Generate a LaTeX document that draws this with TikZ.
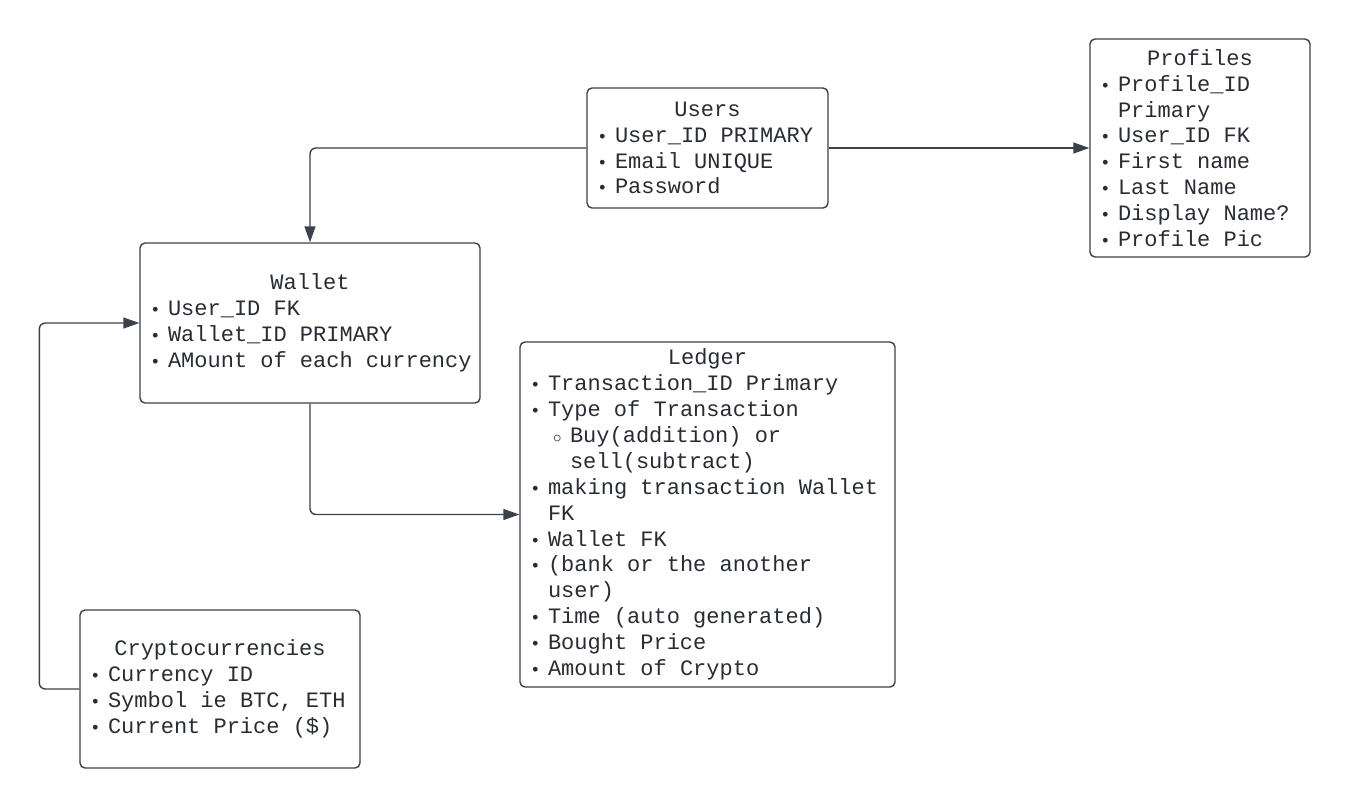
\documentclass[tikz,border=0pt]{standalone}
\usepackage{fontspec}
\setmonofont{Liberation Mono}
\usetikzlibrary{arrows.meta}

\definecolor{linec}{HTML}{3A414A}
\definecolor{textc}{HTML}{282C33}

\DeclareRobustCommand\fixspace{\spaceskip=0.6em\relax\xspaceskip=0.6em\relax}
\newcommand\bul{\makebox[11pt][l]{\kern2pt\scalebox{0.8}{•}}}
\newcommand\cont{\hspace*{11pt}}
\newcommand\subbul{\hspace*{13.5pt}\makebox[8.5pt][l]{$\scriptstyle\circ$}}
\newcommand\subcont{\hspace*{22pt}}
\newcommand\ttl[1]{\hfill #1\hfill\null}

\tikzset{
  table/.style={draw=linec, rounded corners=2.5pt, line width=0.7pt,
    text=textc, align=flush left, inner xsep=3pt, inner ysep=0pt,
    font=\fontsize{11}{12.95}\selectfont\ttfamily, execute at begin node=\fixspace},
  link/.style={draw=linec, line width=0.7pt, rounded corners=3pt,
    -{Triangle[length=8pt,width=5.5pt]}}
}

\begin{document}
\begin{tikzpicture}[x=0.5pt, y=-0.5pt, line join=round]
            \useasboundingbox (0,0) rectangle (1351,810);
            % tables
            \node[table, text width=114.5pt, minimum height=60pt] (users) at (707.5,148)
              {\ttl{Users}\\ \bul User\_ID PRIMARY\\ \bul Email UNIQUE\\ \bul Password};
            \node[table, text width=104pt, minimum height=109pt] (profiles) at (1200,148)
              {\ttl{Profiles}\\ \bul Profile\_ID\\ \cont Primary\\ \bul User\_ID FK\\
               \bul First name\\ \bul Last Name\\ \bul Display Name?\\ \bul Profile Pic};
            \node[table, text width=164pt, minimum height=80pt] (wallet) at (310,323)
              {\ttl{Wallet}\\ \bul User\_ID FK\\ \bul Wallet\_ID PRIMARY\\ \bul AMount of each currency};
            \node[table, text width=181.5pt, minimum height=172.5pt] (ledger) at (707.5,514.5)
              {\ttl{Ledger}\\ \bul Transaction\_ID Primary\\ \bul Type of Transaction\\
               \subbul Buy(addition) or\\ \subcont sell(subtract)\\
               \bul making transaction Wallet\\ \cont FK\\ \bul Wallet FK\\
               \bul (bank or the another\\ \cont user)\\ \bul Time (auto generated)\\
               \bul Bought Price\\ \bul Amount of Crypto};
            \node[table, text width=134pt, minimum height=79pt] (crypto) at (220,689)
              {\ttl{Cryptocurrencies}\\ \bul Currency ID\\ \bul Symbol ie BTC, ETH\\ \bul Current Price (\$)};
            % links
            \draw[link] (users.west) -| (wallet.north);
            \draw[link] (users.east) -- (profiles.west);
            \draw[link] (wallet.south) |- (ledger.west);
            \draw[link] (crypto.west) -- ++(-40,0) |- (wallet.west);
            \end{tikzpicture}
\end{document}
